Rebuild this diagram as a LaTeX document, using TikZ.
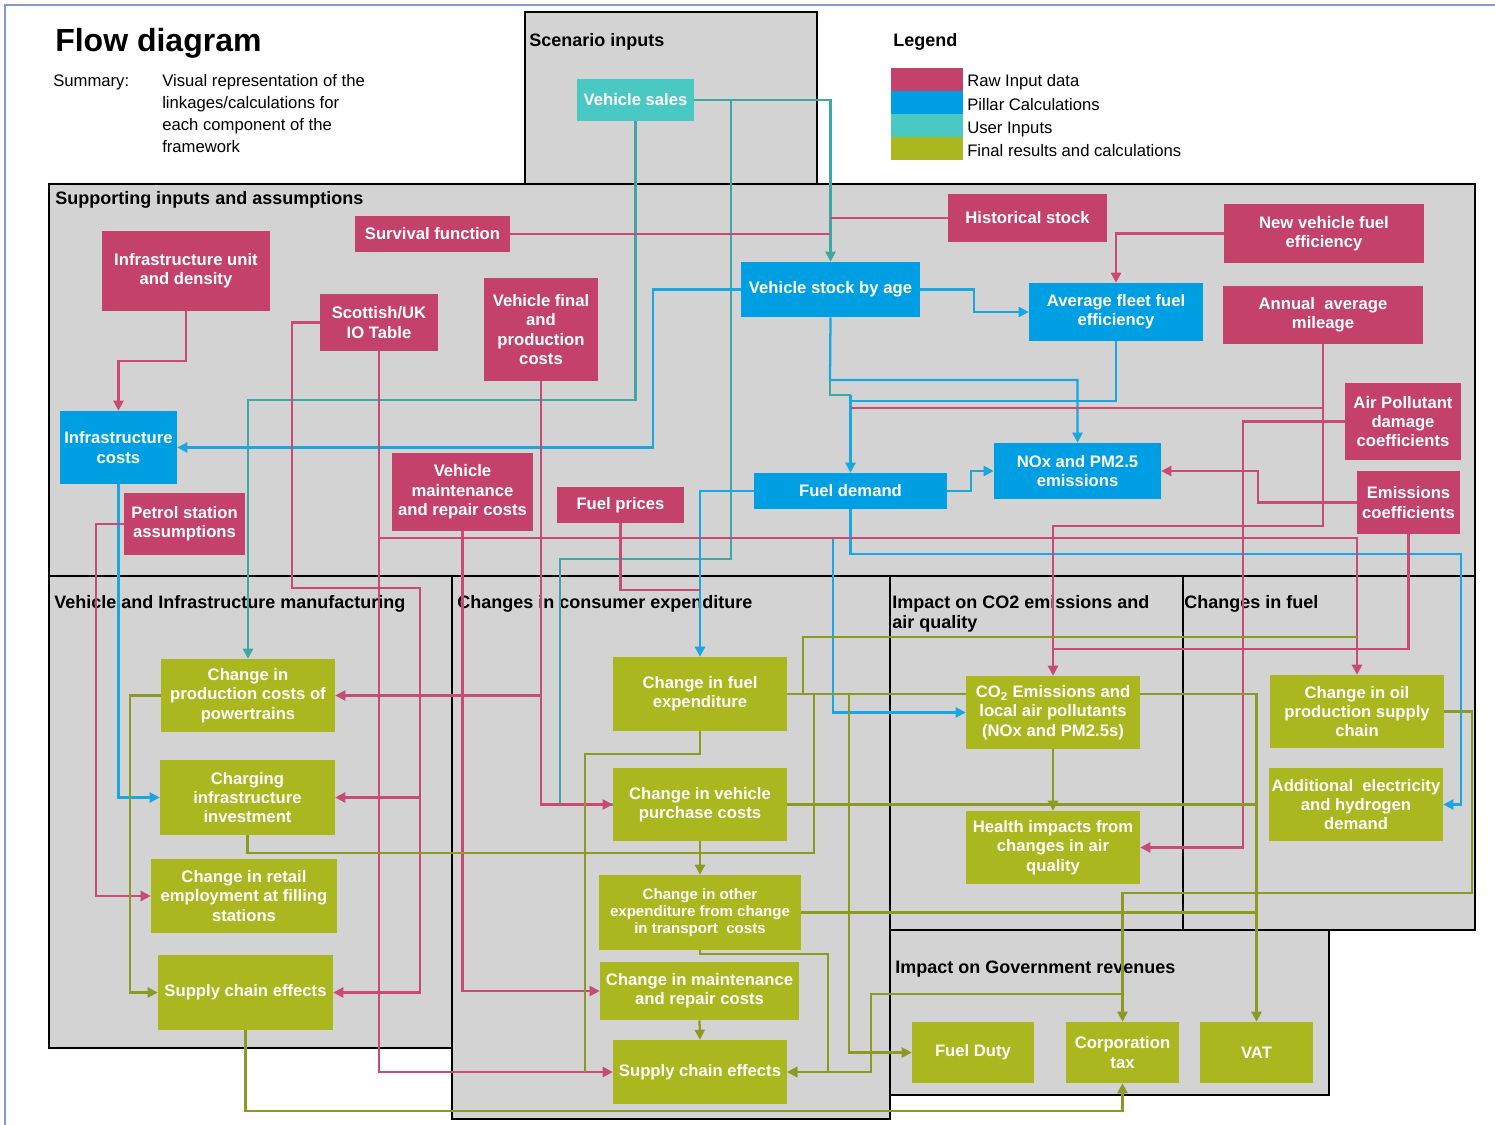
\documentclass[tikz,border=0pt]{standalone}
\usepackage{fontspec}
\setmainfont{Liberation Sans}
\usetikzlibrary{arrows.meta}
\definecolor{rawc}{HTML}{C4416C}
\definecolor{pilc}{HTML}{009FE3}
\definecolor{usrc}{HTML}{49C8C4}
\definecolor{finc}{HTML}{AAB71E}
\definecolor{magl}{HTML}{C94A74}
\definecolor{bluel}{HTML}{1AA7E1}
\definecolor{teall}{HTML}{3FA8A4}
\definecolor{grnl}{HTML}{8A9A22}
\definecolor{panelc}{HTML}{D3D3D3}
\definecolor{framec}{HTML}{8A96CC}
\pgfdeclarelayer{back}
\pgfdeclarelayer{lines}
\pgfsetlayers{back,lines,main}
\tikzset{
  box/.style={inner sep=0pt, text=white, align=center, font=\bfseries\fontsize{12.5}{14.5}\selectfont},
  raw/.style={box, fill=rawc},
  pil/.style={box, fill=pilc},
  usr/.style={box, fill=usrc},
  fin/.style={box, fill=finc},
  smalltxt/.style={font=\bfseries\fontsize{11.3}{12.8}\selectfont},
  panel/.style={fill=panelc, draw=black, line width=1.8pt},
  ptitle/.style={anchor=base west, inner sep=0pt, font=\bfseries\fontsize{13.5}{16}\selectfont},
  plain/.style={anchor=base west, inner sep=0pt, font=\fontsize{12.5}{15}\selectfont},
  ml/.style={draw=magl, line width=1.7pt},
  bl/.style={draw=bluel, line width=1.7pt},
  tl/.style={draw=teall, line width=1.7pt},
  gl/.style={draw=grnl, line width=1.7pt},
  arr/.style={-{Triangle[length=7.5pt,width=7.5pt]}},
}
% box: style, x1, y1, x2, y2, name, text
\newcommand\mybx[7]{\node[#1, minimum width={(#4-#2)*0.75pt}, minimum height={(#5-#3)*0.75pt}] (#6) at ({(#2+#4)/2},{(#3+#5)/2}) {#7};}
\begin{document}
\begin{tikzpicture}[x=0.75pt,y=-0.75pt]
\useasboundingbox (0,0) rectangle (1495,1124);

% ---------------- panels ----------------
\begin{pgfonlayer}{back}
\fill[white] (0,0) rectangle (1495,1124);
\draw[framec, line width=1.5pt] (5,1130) -- (5,5) -- (1500,5);
\draw[panel] (525,12) rectangle (817,184);
\draw[panel] (49,184) rectangle (1475,576);
\draw[panel] (49,576) rectangle (452,1048);
\draw[panel] (890,930) rectangle (1329,1095);
\draw[panel] (452,576) rectangle (890,1119);
\draw[panel] (890,576) rectangle (1183,930);
\draw[panel] (1183,576) rectangle (1475,930);

\node[anchor=base west, inner sep=0pt, font=\bfseries\fontsize{24}{28}\selectfont] (title) at (55,52) {Flow diagram};
\node[plain] (summ) at (53,87) {Summary:};
\node[plain] (s1) at (162,87) {Visual representation of the};
\node[plain] (s2) at (162,108.5) {linkages/calculations for};
\node[plain] (s3) at (162,130.5) {each component of the};
\node[plain] (s4) at (162,152) {framework};

\node[ptitle] (tscen) at (529,46.5) {Scenario inputs};
\node[ptitle] (tleg) at (893,46.5) {Legend};
\node[ptitle] (tsupp) at (55,204) {Supporting inputs and assumptions};
\node[ptitle] (tmanuf) at (54,608) {Vehicle and Infrastructure manufacturing};
\node[ptitle] (tcons) at (457,608) {Changes in consumer expenditure};
\node[ptitle] (tco2a) at (892,608) {Impact on CO2 emissions and};
\node[ptitle] (tco2b) at (892,628) {air quality};
\node[ptitle] (tfuel) at (1184,608) {Changes in fuel};
\node[ptitle] (tgov) at (895,973) {Impact on Government revenues};
\end{pgfonlayer}

% ---------------- legend ----------------
\mybx{fill=rawc,inner sep=0pt}{891}{68}{963}{91}{lg1}{}
\mybx{fill=pilc,inner sep=0pt}{891}{91}{963}{114}{lg2}{}
\mybx{fill=usrc,inner sep=0pt}{891}{114}{963}{137}{lg3}{}
\mybx{fill=finc,inner sep=0pt}{891}{137}{963}{160}{lg4}{}
\node[plain] (lt1) at (967,87) {Raw Input data};
\node[plain] (lt2) at (967,110) {Pillar Calculations};
\node[plain] (lt3) at (967,133) {User Inputs};
\node[plain] (lt4) at (967,156) {Final results and calculations};

% ---------------- nodes ----------------
\mybx{usr}{577}{79}{694}{121}{vsales}{Vehicle sales}
\mybx{raw}{355}{216}{510}{252}{survival}{Survival function}
\mybx{raw}{948}{194}{1107}{242}{histstock}{Historical stock}
\mybx{raw}{1224}{204}{1424}{263}{newveh}{New vehicle fuel\\efficiency}
\mybx{raw}{1223}{286}{1423}{344}{annmil}{Annual\ \ average\\mileage}
\mybx{pil}{1029}{283}{1203}{341}{avgfleet}{Average fleet fuel\\efficiency}
\mybx{pil}{741}{262}{920}{317}{vstock}{Vehicle stock by age}
\mybx{raw}{102}{231}{270}{311}{infunit}{Infrastructure unit\\and density}
\mybx{raw}{320}{294}{438}{351}{scot}{Scottish/UK\\IO Table}
\mybx{raw}{484}{278}{598}{381}{vfinal}{Vehicle final\\and\\production\\costs}
\mybx{pil}{60}{411}{177}{484}{infcost}{Infrastructure\\costs}
\mybx{raw}{124}{493}{245}{555}{petrol}{Petrol station\\assumptions}
\mybx{raw}{392}{453}{533}{531}{vmaint}{Vehicle\\maintenance\\and repair costs}
\mybx{raw}{557}{487}{684}{523}{fuelpr}{Fuel prices}
\mybx{pil}{754}{473}{947}{509}{fueldem}{Fuel demand}
\mybx{pil}{994}{443}{1161}{499}{noxem}{NOx and PM2.5\\emissions}
\mybx{raw}{1345}{383}{1461}{460}{airpol}{Air Pollutant\\damage\\coefficients}
\mybx{raw}{1357}{471}{1460}{534}{emcoef}{Emissions\\coefficients}

\mybx{fin}{161}{659}{335}{732}{prodcost}{Change in\\production costs of\\powertrains}
\mybx{fin}{160}{760}{335}{835}{charging}{Charging\\infrastructure\\investment}
\mybx{fin}{151}{859}{337}{933}{retail}{Change in retail\\employment at filling\\stations}
\mybx{fin}{158}{955}{333}{1030}{scleft}{Supply chain effects}

\mybx{fin}{613}{657}{787}{731}{chfuel}{Change in fuel\\expenditure}
\mybx{fin}{613}{768}{787}{841}{vpurch}{Change in vehicle\\purchase costs}
\mybx{fin,smalltxt}{599}{875}{801}{950}{other}{Change in other\\expenditure from change\\in transport\ \ costs}
\mybx{fin}{600}{962}{799}{1020}{chmaint}{Change in maintenance\\and repair costs}
\mybx{fin}{613}{1040}{787}{1104}{scmid}{Supply chain effects}

\mybx{fin}{966}{676}{1140}{749}{co2}{CO\textsubscript{2} Emissions and\\local air pollutants\\(NOx and PM2.5s)}
\mybx{fin}{966}{811}{1140}{884}{health}{Health impacts from\\changes in air\\quality}

\mybx{fin}{1270}{675}{1444}{748}{oil}{Change in oil\\production supply\\chain}
\mybx{fin}{1269}{768}{1443}{841}{addelec}{Additional\ \ electricity\\and hydrogen\\demand}

\mybx{fin}{912}{1022}{1034}{1083}{fduty}{Fuel Duty}
\mybx{fin}{1066}{1022}{1179}{1083}{corp}{Corporation\\tax}
\mybx{fin}{1200}{1022}{1313}{1083}{vat}{VAT}

% ---------------- junction coordinates ----------------
\coordinate (jSales) at (731,100);
\coordinate (jStock) at (830,380);
\coordinate (jStock2) at (830,395);
\coordinate (jFD) at (850.5,395);
\coordinate (jFD2) at (850.5,401);
\coordinate (jFD3) at (850.5,408);
\coordinate (jMil) at (1323,408);
\coordinate (jSurv) at (830,234);
\coordinate (jHist) at (830,218);
\coordinate (jCO2) at (1053,649);
\coordinate (jScot) at (379,538);
\coordinate (jPow) at (541,695.5);
\coordinate (jChg) at (420,797.5);
\coordinate (jCD) at (833,538);
\coordinate (jFP) at (700,590);
\coordinate (jF1) at (803,694);
\coordinate (jF2) at (814,694);
\coordinate (jF3) at (849,694);
\coordinate (jOil) at (1357,637);
\coordinate (jOE) at (700,853);
\coordinate (jVat1) at (1256.5,804.5);
\coordinate (jVat2) at (1256.5,912.5);
\coordinate (jSC) at (585,1072);
\coordinate (jCorp) at (1122.5,994);

% ---------------- connectors ----------------
\begin{pgfonlayer}{lines}
% teal
\draw[tl,arr] (vsales.east) -| (vstock.north);
\draw[tl] (vsales.east) -- (jSales) |- (560,559) |- (vpurch.west);
\draw[tl,arr] (vsales.south) |- (248,400) -- (prodcost.north);
% blue
\draw[bl,arr] (vstock.west) -| (653,420) |- (infcost.east);
\draw[bl,arr] (vstock.east) -- (974,289.5) |- (avgfleet.west);
\draw[bl,arr] (vstock.south) -- (jStock) -| (noxem.north);
\draw[tl] (jStock) -- (jStock2) -- (jFD);
\draw[bl] (avgfleet.south) |- (jFD2);
\draw[bl,arr] (jFD) -- (fueldem.north);
\draw[bl,arr] (fueldem.west) -| (chfuel.north);
\draw[bl,arr] (fueldem.east) -- (971,491) |- (noxem.west);
\draw[bl,arr] (fueldem.south) |- (1461,554) |- (addelec.east);
\draw[bl,arr] (jCD) |- (co2.west);
\draw[bl,arr] (infcost.south) |- (charging.west);
% magenta
\draw[ml,arr] (infunit.south) -- (186,361) -| (infcost.north);
\draw[ml] (survival.east) -- (jSurv);
\draw[ml] (histstock.west) -- (jHist);
\draw[ml,arr] (newveh.west) -| (avgfleet.north);
\draw[ml,arr] (annmil.south) |- (1053,526) -- (co2.north);
\draw[ml] (jMil) -- (jFD3);
\draw[ml,arr] (airpol.west) -| (1243,600) |- (health.east);
\draw[ml,arr] (emcoef.west) -| (1258,480) |- (noxem.east);
\draw[ml] (emcoef.south) |- (jCO2);
\draw[ml,arr] (scot.south) |- (scmid.west);
\draw[ml,arr] (jScot) -| (oil.north);
\draw[ml,arr] (scot.west) -| (292,588) -| (420,700) |- (scleft.east);
\draw[ml,arr] (jChg) -- (charging.east);
\draw[ml,arr] (vfinal.south) |- (vpurch.west);
\draw[ml,arr] (jPow) -- (prodcost.east);
\draw[ml,arr] (vmaint.south) |- (chmaint.west);
\draw[ml,arr] (petrol.west) -| (96,700) |- (retail.west);
\draw[ml] (fuelpr.south) |- (jFP);
% green
\draw[gl,arr] (chfuel.east) -| (vat.north);
\draw[gl] (jF1) |- (jOil);
\draw[gl] (jF2) |- (jOE);
\draw[gl,arr] (jF3) |- (fduty.west);
\draw[gl] (chfuel.south) -- (700,754) -| (jSC);
\draw[gl] (vpurch.east) -- (jVat1);
\draw[gl,arr] (vpurch.south) -- (other.north);
\draw[gl] (charging.south) |- (jOE);
\draw[gl] (other.east) -- (jVat2);
\draw[gl,arr] (other.south) -- (700,954) -| (828,1000) |- (scmid.east);
\draw[gl,arr] (oil.east) -| (1472,893) -| (corp.north);
\draw[gl,arr] (jCorp) -| (871,1030) |- (scmid.east);
\draw[gl,arr] (chmaint.south) -- (scmid.north);
\draw[gl,arr] (co2.south) -- (health.north);
\draw[gl,arr] (prodcost.west) -| (130,900) |- (scleft.west);
\draw[gl,arr] (scleft.south) |- (1122.5,1111) -- (corp.south);
\end{pgfonlayer}
\end{tikzpicture}
\end{document}
